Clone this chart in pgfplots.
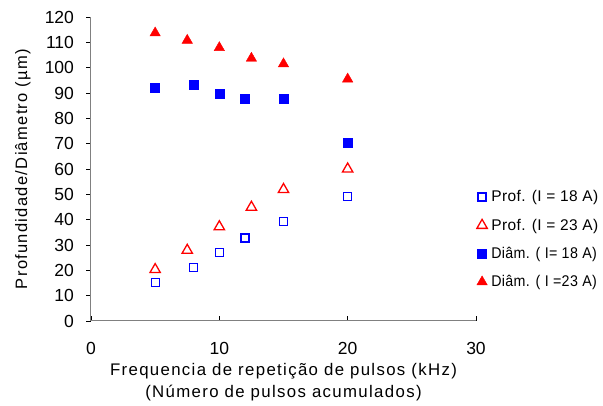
\documentclass[border=0pt]{standalone}
\usepackage{pgfplots}
\pgfplotsset{compat=1.18}
\usepackage{graphicx}
\usepackage{fontspec}
\setmainfont{Liberation Sans}
\newfontfamily\labelfont[LetterSpace=8]{Liberation Sans}
\newfontfamily\legfont[LetterSpace=2.5]{Liberation Sans}
\definecolor{myblue}{RGB}{0,0,255}
\definecolor{myred}{RGB}{255,0,0}
\begin{document}
\begin{tikzpicture}
\path[use as bounding box] (-91pt,-85pt) rectangle (512pt,321pt);
\begin{axis}[
  at={(0,0)}, anchor=south west,
  scale only axis, width=385pt, height=304pt,
  xmin=0, xmax=30, ymin=0, ymax=120,
  xtick={0,10,20,30}, ytick distance=10,
  axis x line=bottom, axis y line=left,
  axis line style={-, draw=black!50, line width=1pt},
  xtick align=inside, ytick align=outside,
  major tick length=4.5pt,
  tick style={black, line width=0.6pt},
  /pgf/number format/assume math mode=true,
  ticklabel style={font=\fontsize{17.5}{17.5}\selectfont},
  xticklabel style={anchor=center, yshift=-27pt},
  yticklabel shift=9pt,
  xlabel={Frequencia de repetição de pulsos (kHz)\\(Número de pulsos acumulados)},
  xlabel style={at={(axis description cs:0.5,-0.2016)}, anchor=center,
    font=\fontsize{16.8}{22.6}\labelfont, align=center},
  ylabel={Profundidade/Diâmetro (µm)},
  ylabel style={at={(axis description cs:-0.177,0.5)}, anchor=center,
    font=\fontsize{16.5}{20}\labelfont},
  legend style={at={(0.994,0.268)}, anchor=west, draw=none, fill=none,
    font=\fontsize{15.5}{18}\legfont, row sep=11.5pt},
  legend cell align=left,
]
\addplot[only marks, color=myblue, mark=square*, mark size=4pt, line width=1.3pt,
  mark options={draw=myblue, fill=white}]
  coordinates {(5,15.3) (8,21.1) (10,26.9) (12,32.8) (15,39.4) (20,49.2)};
\addlegendentry{\hspace{2pt}Prof. (I = 18 A)}
\addplot[only marks, color=myred, mark=triangle*, mark size=6pt, line width=1.3pt,
  mark options={draw=myred, fill=white}]
  coordinates {(5,20.3) (7.5,27.9) (10,37.2) (12.5,44.9) (15,51.9) (20,60)};
\addlegendentry{\hspace{2pt}Prof. (I = 23 A)}
\addplot[only marks, color=myblue, mark=square*, mark size=4.5pt,
  mark options={draw=myblue, fill=myblue}]
  coordinates {(5,92) (8,93.2) (10,89.6) (12,87.8) (15,87.8) (20,70.3)};
\addlegendentry{\hspace{2pt}\scalebox{0.92}[1]{Diâm. ( I= 18 A)}}
\addplot[only marks, color=myred, mark=triangle*, mark size=6pt,
  mark options={draw=myred, fill=myred}]
  coordinates {(5,113.7) (7.5,110.8) (10,107.9) (12.5,103.7) (15,101.5) (20,95.5)};
\addlegendentry{\hspace{2pt}\scalebox{0.92}[1]{Diâm. ( I =23 A)}}
\end{axis}
\end{tikzpicture}
\end{document}
